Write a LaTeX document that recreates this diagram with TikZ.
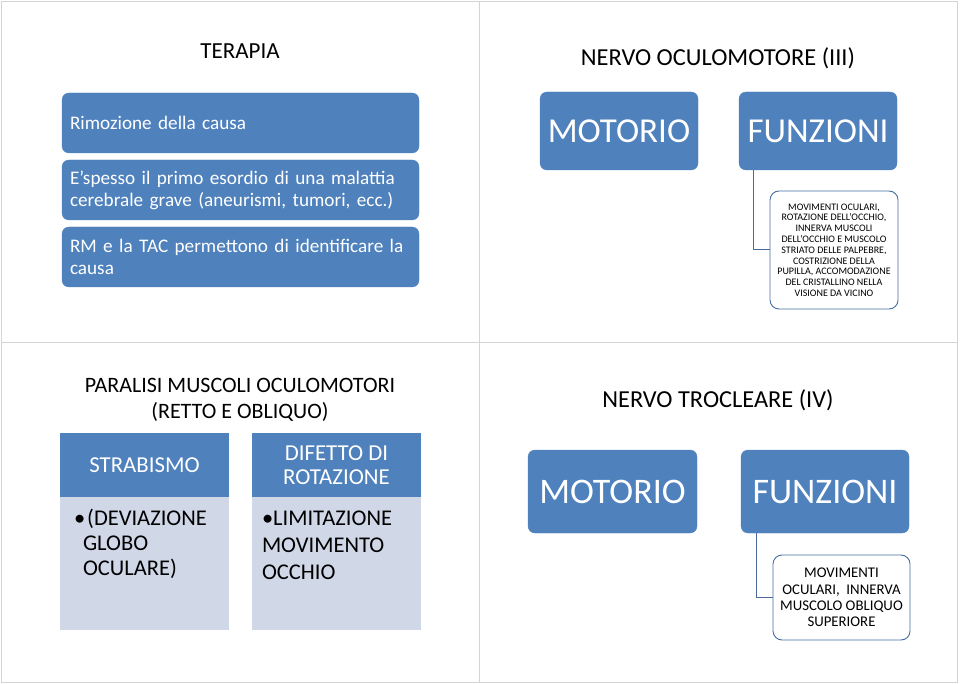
\documentclass[tikz,border=0pt]{standalone}
\usepackage{fontspec}
\setmainfont{Carlito}
\definecolor{slideblue}{HTML}{4F81BD}
\definecolor{slidepale}{HTML}{D0D8E8}
\definecolor{linkblue}{HTML}{4A6A99}
\definecolor{framegray}{HTML}{D4D4D4}
\begin{document}
\begin{tikzpicture}[x=1pt,y=-1pt]

	\tikzset{bluebox/.style={fill=slideblue, draw=slideblue, rounded corners=7pt, text=white, inner sep=0pt},
		leftbox/.style={bluebox, minimum width=357pt, minimum height=60pt, text width=341pt, align=left, font=\fontsize{19.2}{22}\selectfont},
		bigbox/.style={bluebox, font=\fontsize{35}{40}\selectfont},
		detailbox/.style={draw=slideblue!85!black, line width=0.9pt, fill=white, rounded corners=9pt, inner sep=0pt, align=center},
		headbox/.style={fill=slideblue, text=white, inner sep=0pt, minimum width=169pt, minimum height=64pt, align=center, font=\fontsize{22.8}{24}\selectfont},
		bodybox/.style={fill=slidepale, minimum width=169pt, minimum height=133pt},
		link/.style={draw=linkblue, line width=1pt},
		title/.style={align=center, inner sep=0pt}}

	\useasboundingbox (0,0) rectangle (960,684);

	% slide frames
	\draw[framegray] (1,1) rectangle (957,682);
	\draw[framegray] (479,1) -- (479,682);
	\draw[framegray] (1,342) -- (957,342);

	% TERAPIA
	\node[title, font=\fontsize{23}{26}\selectfont] (terapia) at (240,51) {TERAPIA};
	\node[leftbox] (causa) at (240.5,123) {Rimozione della causa};
	\node[leftbox] (esordio) at (240.5,190) {E’spesso il primo esordio di una malattia cerebrale grave (aneurismi, tumori, ecc.)};
	\node[leftbox] (rmtac) at (240.5,257) {RM e la TAC permettono di identificare la causa};

	% NERVO OCULOMOTORE
	\node[title, font=\fontsize{24.4}{28}\selectfont] (oculo) at (718,58) {NERVO OCULOMOTORE (III)};
	\node[bigbox, minimum width=158pt, minimum height=78pt] (mot1) at (619,131) {MOTORIO};
	\node[bigbox, minimum width=158pt, minimum height=78pt] (fun1) at (818,131) {FUNZIONI};
	\node[detailbox, minimum width=128pt, minimum height=118pt, font=\fontsize{10}{10.8}\selectfont] (det1) at (834,250) {MOVIMENTI OCULARI,\\ROTAZIONE DELL’OCCHIO,\\INNERVA MUSCOLI\\DELL’OCCHIO E MUSCOLO\\STRIATO DELLE PALPEBRE,\\COSTRIZIONE DELLA\\PUPILLA, ACCOMODAZIONE\\DEL CRISTALLINO NELLA\\VISIONE DA VICINO};
	\draw[link] (fun1.south west) ++(15,0) |- (det1.west);

	% PARALISI
	\node[title, font=\fontsize{22}{26}\selectfont] (paralisi) at (240,400) {PARALISI MUSCOLI OCULOMOTORI\\(RETTO E OBLIQUO)};
	\node[bodybox] (strabody) at (144.5,563.5) {};
	\node[headbox] (strab) at (144.5,465) {STRABISMO};
	\node[anchor=north west, inner sep=0pt, align=left, font=\fontsize{22.5}{25}\selectfont] (strabtxt) at ([shift={(14,12)}]strabody.north west) {•\hspace{2pt}(DEVIAZIONE\\\hspace{9pt}GLOBO\\\hspace{9pt}OCULARE)};
	\node[bodybox] (rotbody) at (336.5,563.5) {};
	\node[headbox] (rot) at (336.5,465) {DIFETTO DI\\ROTAZIONE};
	\node[anchor=north west, inner sep=0pt, align=left, font=\fontsize{22.5}{27}\selectfont] (rottxt) at ([shift={(10,14)}]rotbody.north west) {•LIMITAZIONE\\MOVIMENTO\\OCCHIO};

	% NERVO TROCLEARE
	\node[title, font=\fontsize{24.4}{28}\selectfont] (troc) at (718,400) {NERVO TROCLEARE (IV)};
	\node[bigbox, minimum width=169pt, minimum height=83pt, font=\fontsize{36}{40}\selectfont] (mot2) at (612.5,491.5) {MOTORIO};
	\node[bigbox, minimum width=168pt, minimum height=83pt, font=\fontsize{36}{40}\selectfont] (fun2) at (825,491.5) {FUNZIONI};
	\node[detailbox, minimum width=137pt, minimum height=85pt, font=\fontsize{14.8}{16.3}\selectfont] (det2) at (841.5,597.5) {MOVIMENTI\\OCULARI,\ \ INNERVA\\MUSCOLO OBLIQUO\\SUPERIORE};
	\draw[link] (fun2.south west) ++(16,0) |- (det2.west);

\end{tikzpicture}
\end{document}
